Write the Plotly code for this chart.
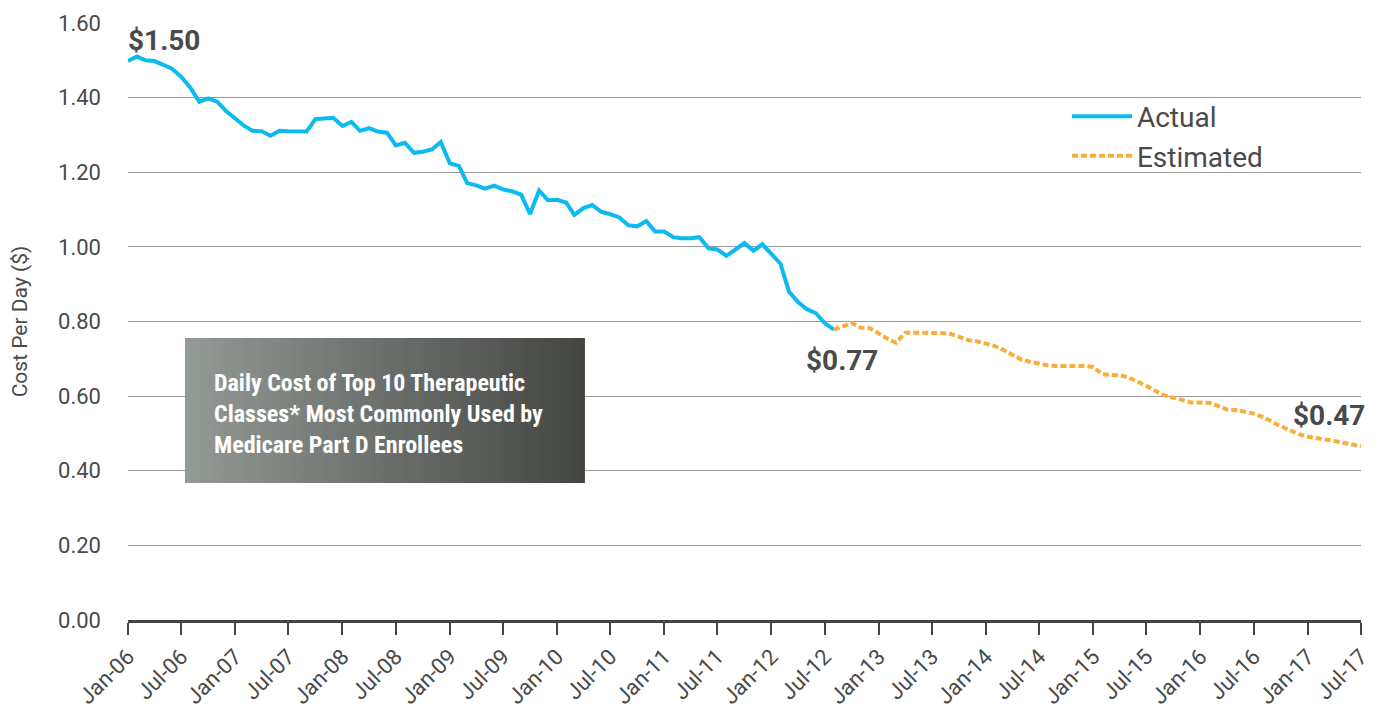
import plotly.graph_objects as go
import pandas as pd

# ---- data ----
actual_start = "2006-01-01"
actual_values = [
    1.498, 1.510, 1.500, 1.498, 1.488, 1.477, 1.456, 1.427, 1.389, 1.398,
    1.389, 1.364, 1.344, 1.324, 1.311, 1.310, 1.298, 1.311, 1.310, 1.310,
    1.309, 1.342, 1.343, 1.346, 1.324, 1.335, 1.311, 1.318, 1.309, 1.306,
    1.272, 1.279, 1.252, 1.255, 1.261, 1.281, 1.224, 1.217, 1.171, 1.165,
    1.156, 1.164, 1.154, 1.149, 1.140, 1.088, 1.151, 1.125, 1.126, 1.119,
    1.086, 1.104, 1.112, 1.094, 1.088, 1.079, 1.058, 1.055, 1.069, 1.041,
    1.041, 1.026, 1.023, 1.023, 1.026, 0.996, 0.993, 0.976, 0.993, 1.010,
    0.990, 1.007, 0.981, 0.955, 0.880, 0.852, 0.833, 0.822, 0.795, 0.778,
]
estimated_start = "2012-08-01"
estimated_values = [
    0.778, 0.788, 0.796, 0.783, 0.782, 0.768, 0.753, 0.743, 0.770, 0.770,
    0.770, 0.770, 0.769, 0.767, 0.760, 0.750, 0.747, 0.741, 0.734, 0.724,
    0.711, 0.698, 0.692, 0.686, 0.682, 0.681, 0.681, 0.681, 0.681, 0.678,
    0.659, 0.657, 0.656, 0.650, 0.640, 0.628, 0.614, 0.602, 0.596, 0.588,
    0.583, 0.583, 0.582, 0.574, 0.564, 0.563, 0.559, 0.553, 0.544, 0.531,
    0.519, 0.509, 0.498, 0.491, 0.488, 0.485, 0.480, 0.475, 0.470, 0.466,
]
tick_dates = pd.date_range("2006-01-01", "2017-07-01", freq="6MS")
tick_labels = [d.strftime("%b-%y") for d in tick_dates]
y_ticks = [0.0, 0.2, 0.4, 0.6, 0.8, 1.0, 1.2, 1.4, 1.6]
box_lines = ["Daily Cost of Top 10 Therapeutic",
             "Classes* Most Commonly Used by",
             "Medicare Part D Enrollees"]

actual_dates = pd.date_range(actual_start, periods=len(actual_values), freq="MS")
estimated_dates = pd.date_range(estimated_start, periods=len(estimated_values), freq="MS")

TEXT = "#4a4a4a"
CYAN = "#0bbbef"
ORANGE = "#f9ad3a"
FONT = "Roboto"

fig = go.Figure()
fig.add_trace(go.Scatter(x=actual_dates, y=actual_values, mode="lines", name="Actual",
                         line=dict(color=CYAN, width=4)))
fig.add_trace(go.Scatter(x=estimated_dates, y=estimated_values, mode="lines", name="Estimated",
                         line=dict(color=ORANGE, width=4, dash="6px,3px")))

# gradient box (strips)
x0, x1 = 0.0462, 0.3706
y0, y1 = 0.2295, 0.4724
n = 60
c0 = (0x93, 0x99, 0x95)
c1 = (0x43, 0x45, 0x41)
shapes = []
for i in range(n):
    t = i / (n - 1)
    c = tuple(int(round(c0[k] + (c1[k] - c0[k]) * t)) for k in range(3))
    xa = x0 + (x1 - x0) * i / n
    xb = x0 + (x1 - x0) * (i + 1) / n + 0.0005
    shapes.append(dict(type="rect", xref="paper", yref="paper", x0=xa, x1=min(xb, x1),
                       y0=y0, y1=y1, fillcolor="rgb(%d,%d,%d)" % c, line=dict(width=0),
                       layer="above"))

box_text = "<br>".join(box_lines)

annotations = [
    dict(x=actual_dates[0], y=actual_values[0], xref="x", yref="y", text="<b>$1.50</b>",
         showarrow=False, xanchor="left", yanchor="bottom", yshift=2, xshift=-2,
         font=dict(family=FONT, size=28, color=TEXT)),
    dict(x=actual_dates[-1], y=actual_values[-1], xref="x", yref="y", text="<b>$0.77</b>",
         showarrow=False, xanchor="center", yanchor="top", yshift=-12, xshift=8,
         font=dict(family=FONT, size=28, color=TEXT)),
    dict(x=estimated_dates[-1], y=estimated_values[-1], xref="x", yref="y", text="<b>$0.47</b>",
         showarrow=False, xanchor="right", yanchor="bottom", yshift=12, xshift=6,
         font=dict(family=FONT, size=28, color=TEXT)),
    dict(x=0.068, y=0.345, xref="paper", yref="paper", text=box_text,
         showarrow=False, xanchor="left", yanchor="middle", align="left",
         font=dict(family="Roboto Condensed, Roboto, sans-serif",
                   size=24, color="white", weight="bold")),
]

fig.update_layout(
    width=1380, height=715,
    margin=dict(l=120, r=27, t=15, b=103),
    paper_bgcolor="white", plot_bgcolor="white",
    font=dict(family=FONT, color=TEXT),
    showlegend=True,
    legend=dict(x=0.7615, y=0.885, xanchor="left", yanchor="top",
                font=dict(family=FONT, size=28, color=TEXT), itemwidth=60,
                bgcolor="rgba(0,0,0,0)", tracegroupgap=0),
    shapes=shapes,
    annotations=annotations,
    xaxis=dict(type="date", range=["2006-01-01", "2017-07-01"],
               tickvals=tick_dates, ticktext=tick_labels, tickangle=-45,
               tickfont=dict(family=FONT, size=22, color=TEXT),
               showgrid=False, zeroline=False,
               showline=True, linecolor="#444444", linewidth=3,
               ticks="outside", ticklen=12, tickwidth=2, tickcolor="#444444",
               automargin=False),
    yaxis=dict(range=[0, 1.6], tickvals=y_ticks, tickformat=".2f",
               tickfont=dict(family=FONT, size=22, color=TEXT),
               showgrid=True, gridcolor="#9a9a9a", gridwidth=1,
               zeroline=False, showline=False, ticks="",
               ticklabelstandoff=26,
               title=dict(text="Cost Per Day ($)", font=dict(family=FONT, size=21, color=TEXT),
                          standoff=24),
               automargin=False),
)

fig.write_html("out.html")
